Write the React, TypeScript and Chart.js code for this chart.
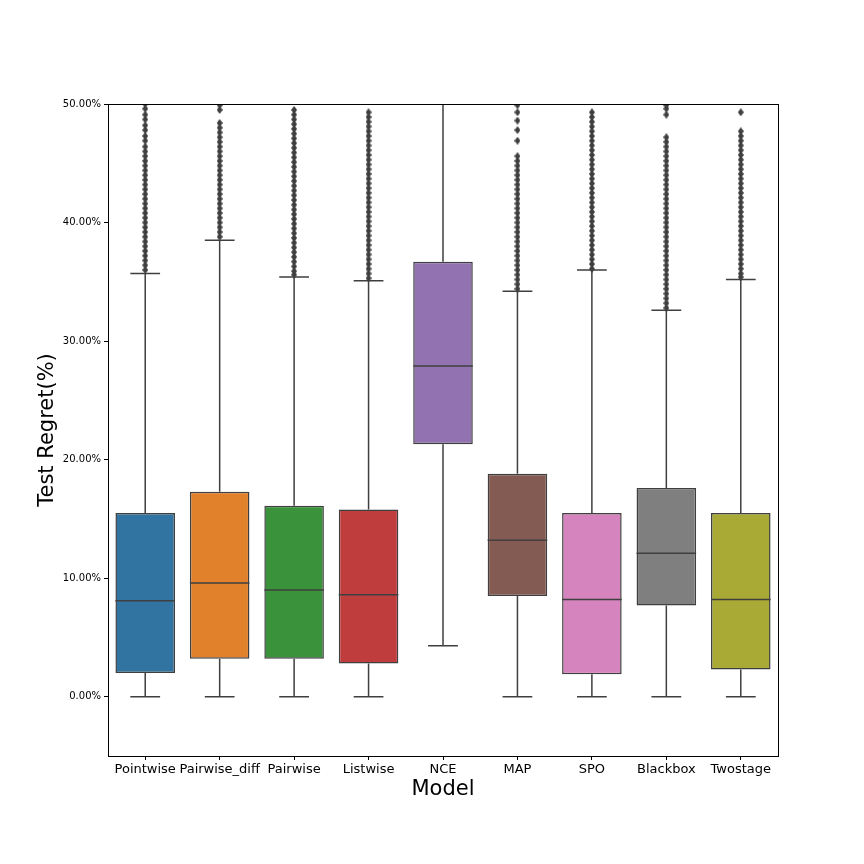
import React, { useEffect, useRef } from "react";
import { Chart, registerables } from "chart.js";

Chart.register(...registerables);

const categories = ["Pointwise", "Pairwise_diff", "Pairwise", "Listwise", "NCE", "MAP", "SPO", "Blackbox", "Twostage"];
const whiskerLow = [0, 0, 0, 0, 4.3, 0, 0, 0, 0];
const q1 = [2.0, 3.2, 3.2, 2.8, 21.3, 8.5, 1.9, 7.7, 2.3];
const median = [8.1, 9.6, 9.0, 8.6, 27.9, 13.2, 8.2, 12.1, 8.2];
const q3 = [15.5, 17.3, 16.1, 15.8, 36.7, 18.8, 15.5, 17.6, 15.5];
const whiskerHigh = [35.7, 38.5, 35.4, 35.1, 56.0, 34.2, 36.0, 32.6, 35.2];
const boxColors = ["#3274a1", "#e1812c", "#3a923a", "#c03d3e", "#9372b2", "#845b53", "#d684bd", "#7f7f7f", "#a9aa35"];
const yTicks = [0, 10, 20, 30, 40, 50];

const outPointwise = [50.0, 49.6, 49.1, 48.7, 48.2, 47.8, 47.3, 46.9, 46.4, 46.0, 45.6, 45.2, 44.8, 44.4, 44.0, 43.6, 43.2, 42.8, 42.4, 42.0, 41.6, 41.2, 40.8, 40.4, 40.0, 39.6, 39.2, 38.8, 38.4, 38.0, 37.6, 37.2, 36.8, 36.4, 36.0];
const outPairwiseDiff = [49.9, 49.5, 48.4, 48.0, 47.6, 47.2, 46.8, 46.4, 46.0, 45.6, 45.2, 44.8, 44.4, 44.0, 43.6, 43.2, 42.8, 42.4, 42.0, 41.6, 41.2, 40.8, 40.4, 40.0, 39.6, 39.2, 38.8];
const outPairwise = [49.5, 49.1, 48.7, 48.3, 47.9, 47.5, 47.1, 46.7, 46.3, 45.9, 45.5, 45.1, 44.7, 44.3, 43.9, 43.5, 43.1, 42.7, 42.3, 41.9, 41.5, 41.1, 40.7, 40.3, 39.9, 39.5, 39.1, 38.7, 38.3, 37.9, 37.5, 37.1, 36.7, 36.3, 35.9, 35.6];
const outListwise = [49.3, 48.9, 48.5, 48.1, 47.7, 47.3, 46.9, 46.5, 46.1, 45.7, 45.3, 44.9, 44.5, 44.1, 43.7, 43.3, 42.9, 42.5, 42.1, 41.7, 41.3, 40.9, 40.5, 40.1, 39.7, 39.3, 38.9, 38.5, 38.1, 37.7, 37.3, 36.9, 36.5, 36.1, 35.7, 35.3];
const outNCE: number[] = [];
const outMAP = [49.9, 49.3, 48.6, 47.8, 46.9, 45.6, 45.2, 44.8, 44.4, 44.0, 43.6, 43.2, 42.8, 42.4, 42.0, 41.6, 41.2, 40.8, 40.4, 40.0, 39.6, 39.2, 38.8, 38.4, 38.0, 37.6, 37.2, 36.8, 36.4, 36.0, 35.6, 35.2, 34.8, 34.4];
const outSPO = [49.3, 48.9, 48.5, 48.1, 47.7, 47.3, 46.9, 46.5, 46.1, 45.7, 45.3, 44.9, 44.5, 44.1, 43.7, 43.3, 42.9, 42.5, 42.1, 41.7, 41.3, 40.9, 40.5, 40.1, 39.7, 39.3, 38.9, 38.5, 38.1, 37.7, 37.3, 36.9, 36.5, 36.1];
const outBlackbox = [49.9, 49.6, 49.1, 47.2, 46.8, 46.4, 46.0, 45.6, 45.2, 44.8, 44.4, 44.0, 43.6, 43.2, 42.8, 42.4, 42.0, 41.6, 41.2, 40.8, 40.4, 40.0, 39.6, 39.2, 38.8, 38.4, 38.0, 37.6, 37.2, 36.8, 36.4, 36.0, 35.6, 35.2, 34.8, 34.4, 34.0, 33.6, 33.2, 32.8];
const outTwostage = [49.3, 47.7, 47.3, 46.9, 46.5, 46.1, 45.7, 45.3, 44.9, 44.5, 44.1, 43.7, 43.3, 42.9, 42.5, 42.1, 41.7, 41.3, 40.9, 40.5, 40.1, 39.7, 39.3, 38.9, 38.5, 38.1, 37.7, 37.3, 36.9, 36.5, 36.1, 35.7, 35.4];
const outliers = [outPointwise, outPairwiseDiff, outPairwise, outListwise, outNCE, outMAP, outSPO, outBlackbox, outTwostage];

const LINE = "#3f3f3f";
const FONT = "'DejaVu Sans', sans-serif";

function makeDiamond(): HTMLCanvasElement {
  const c = document.createElement("canvas");
  c.width = 6;
  c.height = 8;
  const g = c.getContext("2d")!;
  g.fillStyle = LINE;
  g.beginPath();
  g.moveTo(3, 0);
  g.lineTo(6, 4);
  g.lineTo(3, 8);
  g.lineTo(0, 4);
  g.closePath();
  g.fill();
  return c;
}

const boxPlugin = {
  id: "boxParts",
  beforeDatasetsDraw(chart: any) {
    const { ctx, chartArea, scales } = chart;
    const xs = scales.x, ys = scales.y;
    const meta = chart.getDatasetMeta(0);
    ctx.save();
    ctx.beginPath();
    ctx.rect(chartArea.left, chartArea.top, chartArea.right - chartArea.left, chartArea.bottom - chartArea.top);
    ctx.clip();
    ctx.strokeStyle = LINE;
    ctx.lineWidth = 1.5;
    categories.forEach((c, i) => {
      const x = xs.getPixelForValue(i);
      const bw = meta.data[i] ? meta.data[i].width : 60;
      const capHalf = bw / 4;
      const yl = ys.getPixelForValue(whiskerLow[i]);
      const yq1 = ys.getPixelForValue(q1[i]);
      const yq3 = ys.getPixelForValue(q3[i]);
      const yh = ys.getPixelForValue(whiskerHigh[i]);
      ctx.beginPath();
      ctx.moveTo(x, yl); ctx.lineTo(x, yq1);
      ctx.moveTo(x, yq3); ctx.lineTo(x, yh);
      ctx.moveTo(x - capHalf, yl); ctx.lineTo(x + capHalf, yl);
      ctx.moveTo(x - capHalf, yh); ctx.lineTo(x + capHalf, yh);
      ctx.stroke();
    });
    ctx.restore();
  },
  afterDatasetsDraw(chart: any) {
    const { ctx, chartArea, scales } = chart;
    const xs = scales.x, ys = scales.y;
    const meta = chart.getDatasetMeta(0);
    ctx.save();
    ctx.strokeStyle = LINE;
    ctx.lineWidth = 1.5;
    categories.forEach((c, i) => {
      const x = xs.getPixelForValue(i);
      const bw = meta.data[i] ? meta.data[i].width : 60;
      const ym = ys.getPixelForValue(median[i]);
      ctx.beginPath();
      ctx.moveTo(x - bw / 2, ym); ctx.lineTo(x + bw / 2, ym);
      ctx.stroke();
    });
    ctx.strokeStyle = "#000";
    ctx.lineWidth = 1;
    ctx.strokeRect(Math.round(chartArea.left) + 0.5, Math.round(chartArea.top) + 0.5,
      Math.round(chartArea.right - chartArea.left), Math.round(chartArea.bottom - chartArea.top));
    ctx.restore();
  },
};

export default function App() {
  const ref = useRef<HTMLCanvasElement>(null);
  useEffect(() => {
    document.body.style.margin = "0";
    const boxes = categories.map((_, i) => [q1[i], q3[i]]);
    const fliers = categories.flatMap((c, i) => outliers[i].map((y) => ({ x: c, y })));
    const diamond = makeDiamond();
    const chart = new Chart(ref.current!, {
      type: "bar",
      data: {
        labels: categories,
        datasets: [
          {
            type: "bar",
            data: boxes as any,
            backgroundColor: boxColors,
            borderColor: LINE,
            borderWidth: 1.5,
            borderSkipped: false,
            barPercentage: 0.8,
            categoryPercentage: 1,
            grouped: false,
            order: 2,
          } as any,
          {
            type: "line",
            data: fliers as any,
            showLine: false,
            pointStyle: diamond,
            pointRadius: 4,
            pointBackgroundColor: LINE,
            pointBorderColor: LINE,
            pointBorderWidth: 0,
            clip: 0,
            order: 1,
          } as any,
        ],
      },
      options: {
        responsive: false,
        animation: false,
        devicePixelRatio: 1,
        layout: { padding: { top: 104, right: 86, bottom: 62, left: 35 } },
        plugins: { legend: { display: false }, tooltip: { enabled: false } },
        scales: {
          x: {
            type: "category",
            offset: true,
            grid: { display: true, drawOnChartArea: false, offset: false, tickLength: 4, color: "#000", lineWidth: 1 },
            border: { display: false },
            ticks: { color: "#000", padding: 2, font: { family: FONT, size: 13 }, maxRotation: 0, autoSkip: false },
            title: { display: true, text: "Model", color: "#000", font: { family: FONT, size: 21 }, padding: 0 },
            afterFit: (s: any) => { s.height = 46; },
          },
          y: {
            type: "linear",
            min: -5,
            max: 50,
            grid: { display: true, drawOnChartArea: false, tickLength: 4, color: "#000", lineWidth: 1 },
            border: { display: false },
            afterBuildTicks: (s: any) => { s.ticks = yTicks.map((v) => ({ value: v })); },
            ticks: {
              color: "#000",
              padding: 3,
              font: { family: FONT, size: 10 },
              callback: (v: any) => Number(v).toFixed(2) + "%",
            },
            title: { display: true, text: "Test Regret(%)", color: "#000", font: { family: FONT, size: 21 }, padding: 0 },
            afterFit: (s: any) => { s.width = 73; },
          },
        },
      },
      plugins: [boxPlugin],
    });
    return () => chart.destroy();
  }, []);
  return (
    <div style={{ width: 864, height: 864, background: "#fff" }}>
      <canvas ref={ref} width={864} height={864} />
    </div>
  );
}
